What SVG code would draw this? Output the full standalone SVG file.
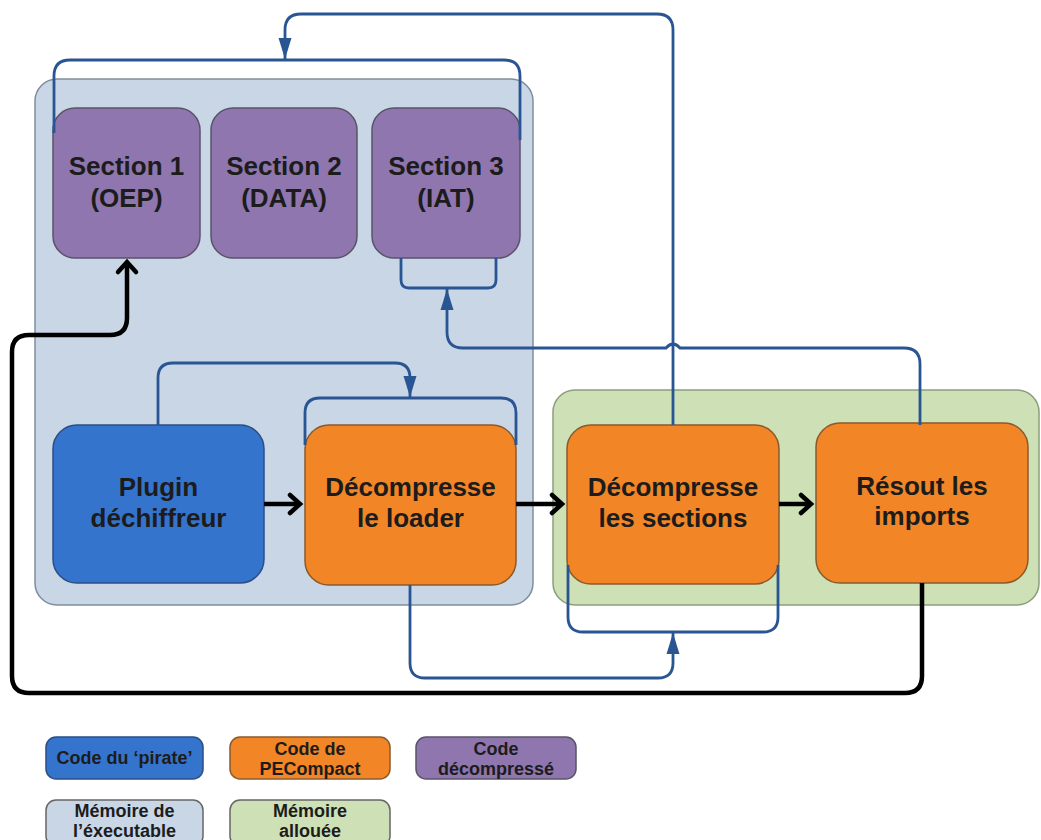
<svg xmlns="http://www.w3.org/2000/svg" width="1041" height="840" viewBox="0 0 1041 840">
<style>
.t{font-family:"Liberation Sans",Arial,sans-serif;font-weight:bold;fill:#1c1c1c;text-anchor:middle}
.n{font-size:26px}
.l{font-size:18px}
.mem-exe{fill:#c8d6e6;stroke:#7f8e9c;stroke-width:1.5}
.mem-alloc{fill:#cee0b6;stroke:#8a9e7c;stroke-width:1.5}
.sec{fill:#8f76ae;stroke:#5a5468;stroke-width:1.5}
.pir{fill:#3574cc;stroke:#2a4f86;stroke-width:1.5}
.pec{fill:#f28526;stroke:#8a5a2c;stroke-width:1.5}
.bl{fill:none;stroke:#2a5593;stroke-width:2.8}
.bk{fill:none;stroke:#000;stroke-width:4.5;stroke-linejoin:round}
.blarrow{marker-end:url(#tri)}
.bkarrow{marker-end:url(#chev)}
</style>
<defs>
<marker id="tri" markerUnits="userSpaceOnUse" viewBox="-22 -8 24 16" refX="0" refY="0" markerWidth="24" markerHeight="16" orient="auto">
<path d="M-21,-6.5 L0,0 L-21,6.5 Z" fill="#2a5593"/>
</marker>
<marker id="chev" markerUnits="userSpaceOnUse" viewBox="-16 -14 20 28" refX="0" refY="0" markerWidth="20" markerHeight="28" orient="auto" overflow="visible">
<path d="M-10,-9 L0,0 L-10,9" fill="none" stroke="#000" stroke-width="4.5" stroke-linecap="round" stroke-linejoin="miter"/>
</marker>
</defs>

<g id="memoire-executable">
<rect class="mem-exe" x="35" y="79" width="498" height="526" rx="22"/>
</g>
<g id="memoire-allouee">
<rect class="mem-alloc" x="553" y="390" width="486" height="215" rx="22"/>
</g>

<g id="section1">
<rect class="sec" x="53" y="108" width="147" height="150" rx="22"/>
<text class="t n" x="126.5" y="175">Section 1</text>
<text class="t n" x="126.5" y="207">(OEP)</text>
</g>
<g id="section2">
<rect class="sec" x="211" y="108" width="146" height="150" rx="22"/>
<text class="t n" x="284" y="175">Section 2</text>
<text class="t n" x="284" y="207">(DATA)</text>
</g>
<g id="section3">
<rect class="sec" x="372" y="108" width="148" height="150" rx="22"/>
<text class="t n" x="446" y="175">Section 3</text>
<text class="t n" x="446" y="207">(IAT)</text>
</g>

<g id="plugin">
<rect class="pir" x="53" y="425" width="211" height="158" rx="24"/>
<text class="t n" x="158.5" y="496">Plugin</text>
<text class="t n" x="158.5" y="527">déchiffreur</text>
</g>
<g id="loader">
<rect class="pec" x="305" y="425" width="211" height="160" rx="24"/>
<text class="t n" x="410.5" y="496">Décompresse</text>
<text class="t n" x="410.5" y="527">le loader</text>
</g>
<g id="sections">
<rect class="pec" x="567" y="425" width="212" height="159" rx="24"/>
<text class="t n" x="673" y="496">Décompresse</text>
<text class="t n" x="673" y="527">les sections</text>
</g>
<g id="imports">
<rect class="pec" x="816" y="423" width="212" height="160" rx="24"/>
<text class="t n" x="922" y="495">Résout les</text>
<text class="t n" x="922" y="525">imports</text>
</g>

<g id="connectors">
<path class="bl blarrow" d="M673,425 V30 Q673,14 657,14 H301 Q285,14 285,30 V59"/>
<path class="bl" d="M54,133 V76 Q54,60 70,60 H504 Q520,60 520,76 V140"/>
<path class="bl blarrow" d="M920,425 V364 Q920,348 904,348 H680 Q673,340 666,348 H463 Q447,348 447,332 V289"/>
<path class="bl" d="M401,258 V280 Q401,288 409,288 H488 Q496,288 496,280 V258"/>
<path class="bl blarrow" d="M158,425 V378 Q158,363 173,363 H395 Q410,363 410,378 V397"/>
<path class="bl" d="M305,445 V413 Q305,398 320,398 H501 Q516,398 516,413 V445"/>
<path class="bl blarrow" d="M410,585 V663 Q410,678 425,678 H658 Q673,678 673,663 V633"/>
<path class="bl" d="M568,565 V617 Q568,632 583,632 H763 Q778,632 778,617 V565"/>
<path class="bk bkarrow" d="M264,504 H300"/>
<path class="bk bkarrow" d="M516,504 H562"/>
<path class="bk bkarrow" d="M779,504 H811"/>
<path class="bk bkarrow" d="M922,583 V676 Q922,693 905,693 H29 Q12,693 12,676 V352 Q12,335 29,335 H110 Q127,335 127,318 V262"/>
</g>

<g id="legend-pirate">
<rect class="pir" x="46" y="737" width="157" height="42" rx="10"/>
<text class="t l" x="124.5" y="764">Code du ‘pirate’</text>
</g>
<g id="legend-pecompact">
<rect class="pec" x="230" y="737" width="160" height="42" rx="10"/>
<text class="t l" x="310" y="755">Code de</text>
<text class="t l" x="310" y="775">PECompact</text>
</g>
<g id="legend-decompresse">
<rect class="sec" x="416" y="737" width="160" height="42" rx="10"/>
<text class="t l" x="496" y="755">Code</text>
<text class="t l" x="496" y="775">décompressé</text>
</g>
<g id="legend-exe">
<rect class="mem-exe" x="46" y="800" width="157" height="46" rx="10" style="stroke:#666"/>
<text class="t l" x="124.5" y="817">Mémoire de</text>
<text class="t l" x="124.5" y="837">l’éxecutable</text>
</g>
<g id="legend-alloc">
<rect class="mem-alloc" x="230" y="800" width="160" height="46" rx="10" style="stroke:#666"/>
<text class="t l" x="310" y="817">Mémoire</text>
<text class="t l" x="310" y="837">allouée</text>
</g>
</svg>
